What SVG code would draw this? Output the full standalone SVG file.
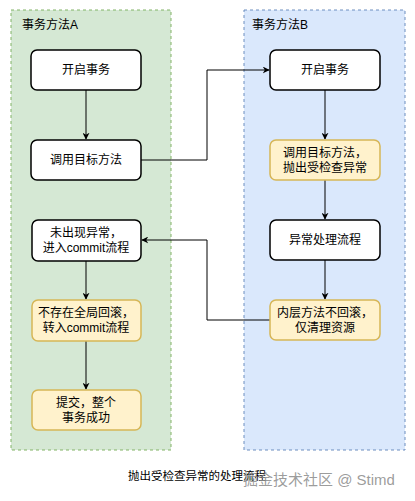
<svg xmlns="http://www.w3.org/2000/svg" width="415" height="501" viewBox="0 0 415 501">
<style>
text{font-family:"Liberation Sans","Noto Sans CJK SC",sans-serif;font-size:12px;fill:#000}
.node{fill:#fff;stroke:#000;stroke-width:1.5}
.warn{fill:#fff2cc;stroke:#d6b656;stroke-width:1.5}
.c{text-anchor:middle}
.edge{fill:none;stroke:#000;stroke-width:1}
</style>
<defs>
<marker id="ah" viewBox="0 0 10 10" refX="9" refY="5" markerWidth="7" markerHeight="7" orient="auto" markerUnits="userSpaceOnUse">
<path d="M0,0 L10,5 L0,10 L3,5 z" fill="#000"/>
</marker>
</defs>
<rect width="415" height="501" fill="#fff"/>
<g id="containerA">
<rect x="11" y="10" width="160" height="440" fill="#d5e8d4" stroke="#82b366" stroke-dasharray="3,3"/>
<text x="22" y="29">事务方法A</text>
</g>
<g id="containerB">
<rect x="244" y="10" width="161" height="440" fill="#dae8fc" stroke="#6c8ebf" stroke-dasharray="3,3"/>
<text x="252" y="29">事务方法B</text>
</g>
<g id="connectors">
<path class="edge" d="M86,90 V139" marker-end="url(#ah)"/>
<path class="edge" d="M141,160 H207 V70 H269" marker-end="url(#ah)"/>
<path class="edge" d="M325,90 V139" marker-end="url(#ah)"/>
<path class="edge" d="M325,180 V219" marker-end="url(#ah)"/>
<path class="edge" d="M325,260 V299" marker-end="url(#ah)"/>
<path class="edge" d="M270,320 H207 V240 H142" marker-end="url(#ah)"/>
<path class="edge" d="M86,261 V299" marker-end="url(#ah)"/>
<path class="edge" d="M86,341 V389" marker-end="url(#ah)"/>
</g>
<g id="a1"><rect class="node" x="31" y="50" width="110" height="40" rx="6"/><text class="c" x="86" y="74">开启事务</text></g>
<g id="a2"><rect class="node" x="31" y="140" width="110" height="40" rx="6"/><text class="c" x="86" y="164">调用目标方法</text></g>
<g id="a3"><rect class="node" x="32" y="220" width="109" height="41" rx="6"/><text class="c" x="86" y="237">未出现异常，</text><text class="c" x="86" y="252">进入commit流程</text></g>
<g id="a4"><rect class="warn" x="32" y="300" width="109" height="41" rx="6"/><text class="c" x="86" y="317">不存在全局回滚，</text><text class="c" x="86" y="332">转入commit流程</text></g>
<g id="a5"><rect class="warn" x="32" y="390" width="109" height="40" rx="6"/><text class="c" x="86" y="407">提交，整个</text><text class="c" x="86" y="422">事务成功</text></g>
<g id="b1"><rect class="node" x="270" y="50" width="110" height="40" rx="6"/><text class="c" x="325" y="74">开启事务</text></g>
<g id="b2"><rect class="warn" x="270" y="140" width="110" height="40" rx="6"/><text class="c" x="325" y="157">调用目标方法，</text><text class="c" x="325" y="172">抛出受检查异常</text></g>
<g id="b3"><rect class="node" x="270" y="220" width="110" height="40" rx="6"/><text class="c" x="325" y="244">异常处理流程</text></g>
<g id="b4"><rect class="warn" x="270" y="300" width="110" height="40" rx="6"/><text class="c" x="325" y="317">内层方法不回滚，</text><text class="c" x="325" y="332">仅清理资源</text></g>
<g id="caption">
<text x="128" y="480" style="font-size:11.5px">抛出受检查异常的处理流程</text>
<text x="243" y="485" style="font-size:15px;fill:#8a8a8a;fill-opacity:0.85">掘金技术社区 @ Stimd</text>
</g>
</svg>
